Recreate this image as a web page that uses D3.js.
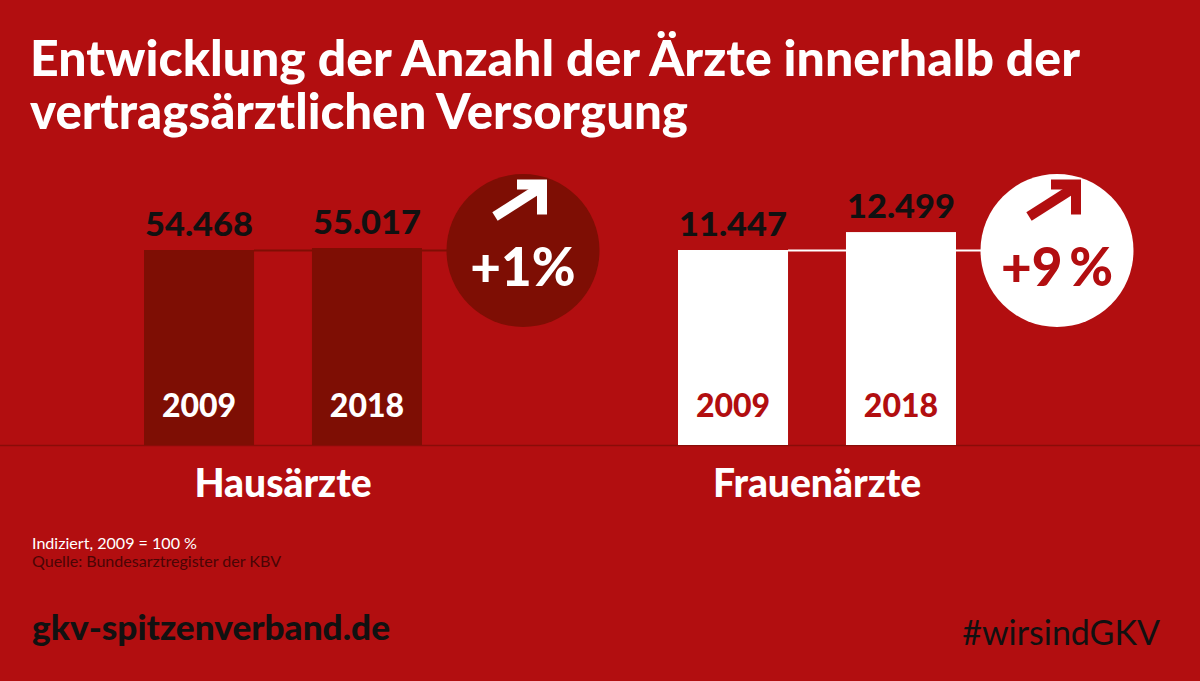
<!DOCTYPE html>
<html><head><meta charset="utf-8">
<script src="https://cdn.jsdelivr.net/npm/d3@7"></script>
<style>html,body{margin:0;padding:0;background:#b20e10;}svg{display:block;}</style>
</head><body>
<svg id="c" width="1200" height="681"></svg>
<script>
// ---- data ----
const groups = ["Hausärzte", "Frauenärzte"];
const years = ["2009", "2018"];
const hausValues = [54468, 55017];
const frauenValues = [11447, 12499];
const changeLabels = ["+1%", "+9\u2009%"];
const titleLines = ["Entwicklung der Anzahl der Ärzte innerhalb der", "vertragsärztlichen Versorgung"];
const notes = ["Indiziert, 2009 = 100 %", "Quelle: Bundesarztregister der KBV"];

const seriesValues = [hausValues, frauenValues];
const styles = [
  {bar: "#7e0e04", year: "#ffffff", circle: "#7e0e04", circleText: "#ffffff", line: "#7e0e04"},
  {bar: "#ffffff", year: "#b20e10", circle: "#ffffff", circleText: "#b20e10", line: "#ffffff"}
];

const svg = d3.select("#c");
const W = 1200, H = 681;
svg.append("rect").attr("width", W).attr("height", H).attr("fill", "#b20e10");

const FONT = "Lato, 'Open Sans', sans-serif";
const fmt = d3.formatLocale({decimal: ",", thousands: ".", grouping: [3], currency: ["", "€"]}).format(",d");

// title
titleLines.forEach((t, i) => {
  svg.append("text").attr("x", 30).attr("y", 76 + i * 53)
    .attr("fill", "#fff").attr("font-family", FONT).attr("font-weight", 900)
    .attr("font-size", 48.5).text(t)
    .attr("textLength", i === 0 ? 1050 : 658).attr("lengthAdjust", "spacingAndGlyphs");
});

// scales
const gx = d3.scaleBand().domain(groups).range([144, 144 + 2 * 534]).paddingInner(0).paddingOuter(0);
const bx = d3.scaleBand().domain(years).range([0, 278]).paddingInner(0.345).paddingOuter(0);
const y = d3.scaleLinear().domain([0, 100]).range([445, 250]);

// baseline
svg.append("line").attr("x1", 0).attr("x2", W).attr("y1", 445.5).attr("y2", 445.5)
  .attr("stroke", "#8a0c08").attr("stroke-width", 1.5);

groups.forEach((g, gi) => {
  const vals = seriesValues[gi];
  const st = styles[gi];
  const idx = vals.map(v => v / vals[0] * 100);
  const G = svg.append("g").attr("transform", `translate(${gx(g)},0)`);
  const cx = 379, cy = y(100) + 0.5;

  // reference line
  G.append("line").attr("x1", bx(years[0]) + bx.bandwidth()).attr("x2", cx)
    .attr("y1", y(100) + 0.5).attr("y2", y(100) + 0.5)
    .attr("stroke", st.line).attr("stroke-width", 2);

  // bars
  G.selectAll("rect.bar").data(years).join("rect").attr("class", "bar")
    .attr("x", d => bx(d)).attr("width", bx.bandwidth())
    .attr("y", (d, i) => y(idx[i])).attr("height", (d, i) => y(0) - y(idx[i]))
    .attr("fill", st.bar);

  // value labels
  G.selectAll("text.val").data(years).join("text").attr("class", "val")
    .attr("x", d => bx(d) + bx.bandwidth() / 2).attr("y", (d, i) => y(idx[i]) - 14)
    .attr("text-anchor", "middle").attr("font-family", FONT).attr("font-weight", 900)
    .attr("font-size", 33).attr("fill", "#111").text((d, i) => fmt(vals[i]))
    .attr("textLength", 108).attr("lengthAdjust", "spacingAndGlyphs");

  // year labels
  G.selectAll("text.yr").data(years).join("text").attr("class", "yr")
    .attr("x", d => bx(d) + bx.bandwidth() / 2).attr("y", 417)
    .attr("text-anchor", "middle").attr("font-family", FONT).attr("font-weight", 900)
    .attr("font-size", 32).attr("fill", st.year).text(d => d);

  // category label
  G.append("text").attr("x", (bx(years[1]) + bx.bandwidth()) / 2).attr("y", 497)
    .attr("text-anchor", "middle").attr("font-family", FONT).attr("font-weight", 900)
    .attr("font-size", 39).attr("fill", "#fff").text(g);

  // circle
  const C = G.append("g").attr("transform", `translate(${cx},${cy})`);
  C.append("circle").attr("r", 76.5).attr("fill", st.circle);
  C.append("path").attr("d", "M-28,-34L16,-62").attr("stroke", st.circleText)
    .attr("stroke-width", 10).attr("fill", "none");
  C.append("path").attr("d", "M-6,-66L19,-66L19,-36").attr("stroke", st.circleText)
    .attr("stroke-width", 10).attr("fill", "none").attr("stroke-linejoin", "miter");
  C.append("text").attr("x", 0).attr("y", 35).attr("text-anchor", "middle")
    .attr("font-family", FONT).attr("font-weight", 900).attr("font-size", 53)
    .attr("fill", st.circleText).text(changeLabels[gi]);
});

// notes
svg.append("text").attr("x", 32).attr("y", 549).attr("font-family", FONT)
  .attr("font-size", 16).attr("fill", "#fff").text(notes[0])
  .attr("textLength", 165).attr("lengthAdjust", "spacingAndGlyphs");
svg.append("text").attr("x", 32).attr("y", 567).attr("font-family", FONT)
  .attr("font-size", 16).attr("fill", "#4a0505").text(notes[1])
  .attr("textLength", 249).attr("lengthAdjust", "spacingAndGlyphs");

// footer
svg.append("text").attr("x", 32).attr("y", 640).attr("font-family", FONT).attr("font-weight", 900)
  .attr("font-size", 34).attr("fill", "#111").attr("textLength", 358).attr("lengthAdjust", "spacingAndGlyphs")
  .text("gkv-spitzenverband.de");
svg.append("text").attr("x", 1160).attr("y", 645).attr("text-anchor", "end").attr("font-family", FONT)
  .attr("font-size", 34).attr("fill", "#111").text("#wirsindGKV");
</script>
</body></html>
